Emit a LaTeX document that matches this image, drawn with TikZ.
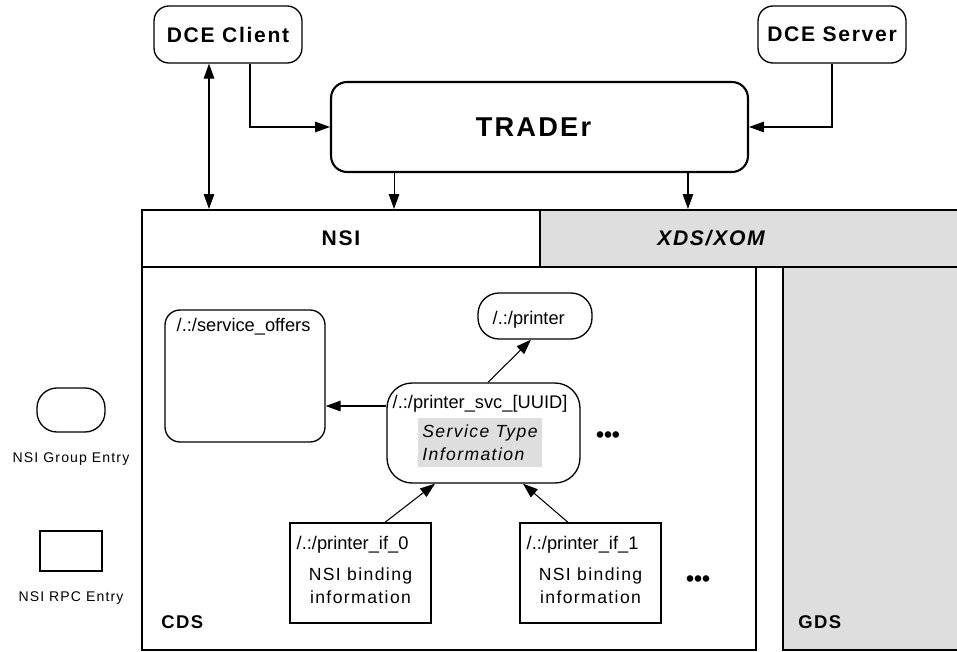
\documentclass[tikz,border=0pt]{standalone}
\usepackage{fontspec}
\setmainfont{Liberation Sans}[LetterSpace=8]
\newfontfamily\pathfont{Liberation Sans}
\usetikzlibrary{arrows.meta}

\definecolor{panelgray}{HTML}{DEDEDE}

\tikzset{
  entry/.style={draw, line width=0.75pt, inner sep=0pt},
  groupentry/.style={entry, rounded corners=#1},
  groupentry/.default=0.3cm,
  rpcentry/.style={entry},
  layer/.style={draw, line width=1.2pt, inner sep=0pt},
  pathlabel/.style={anchor=base west, inner sep=0pt, font=\pathfont\fontsize{10.4}{12}\selectfont},
  layerlabel/.style={anchor=base west, inner sep=0pt, yshift=0.46cm, font=\bfseries\fontsize{10.5}{12}\selectfont},
  legendlabel/.style={anchor=base, inner sep=0pt, yshift=-0.6cm, font=\fontsize{8}{10}\selectfont},
  bindlabel/.style={anchor=south, inner sep=0pt, yshift=0.4cm, align=center, font=\fontsize{10}{12.8}\selectfont},
  shadebox/.style={fill=panelgray, inner sep=1pt, minimum width=2.48cm, minimum height=0.98cm, align=left, font=\itshape\fontsize{10}{13.4}\selectfont},
  morednote/.style={inner sep=0pt, font=\pathfont\bfseries\fontsize{13}{14}\selectfont},
  link/.style={-{Triangle[length=8.5pt,width=6pt]}, line width=0.6pt},
  dbllink/.style={{Triangle[length=8.5pt,width=6pt]}-{Triangle[length=8.5pt,width=6pt]}, line width=0.6pt}
}

\begin{document}
\begin{tikzpicture}[x=0.02cm, y=-0.02cm]
  \useasboundingbox (0,0) rectangle (957,652);

  % DCE side
  \node[groupentry, minimum width=2.96cm, minimum height=1.14cm, font=\bfseries\fontsize{12}{14}\selectfont] (client) at (228,34.5) {DCE Client};
  \node[groupentry, minimum width=2.96cm, minimum height=1.14cm, font=\bfseries\fontsize{12}{14}\selectfont] (server) at (832,34.5) {DCE Server};
  \node[groupentry=0.32cm, line width=1.2pt, minimum width=8.34cm, minimum height=1.8cm,
        label={[inner sep=0pt, xshift=-0.12cm, font=\bfseries\fontsize{15.5}{18}\selectfont]center:TRADEr}] (trader) at (539.5,127) {};

  % layers
  \node[layer, minimum width=7.96cm, minimum height=1.14cm, font=\bfseries\fontsize{12}{14}\selectfont] (nsi) at (341,238.5) {NSI};
  \node[layer, fill=panelgray, minimum width=8.4cm, minimum height=1.14cm,
        label={[inner sep=0pt, xshift=-0.78cm, font=\bfseries\itshape\fontsize{12}{14}\selectfont]center:XDS/XOM}] (xds) at (750,238.5) {};
  \node[layer, minimum width=12.28cm, minimum height=7.66cm, label={[layerlabel, xshift=0.4cm]south west:CDS}] (cds) at (449,458.5) {};
  \node[layer, fill=panelgray, minimum width=3.52cm, minimum height=7.66cm, label={[layerlabel, xshift=0.32cm]south west:GDS}] (gds) at (871,458.5) {};

  % CDS entries
  \node[groupentry, minimum width=3.2cm, minimum height=2.64cm,
        label={[pathlabel, xshift=0.24cm, yshift=-0.44cm]north west:{/.:/service\_offers}}] (offers) at (245,376) {};
  \node[groupentry=0.42cm, minimum width=2.28cm, minimum height=0.92cm,
        label={[pathlabel, xshift=0.3cm, yshift=-0.16cm]west:{/.:/printer}}] (printer) at (535,316) {};
  \node[groupentry=0.5cm, minimum width=3.86cm, minimum height=2cm,
        label={[pathlabel, xshift=0.12cm, yshift=-0.52cm]north west:{/.:/printer\_svc\_[UUID]}}] (svc) at (483.5,433) {};
  \node[shadebox] (svcinfo) at (480,442.5) {Service Type\\Information};
  \node[rpcentry, minimum width=2.82cm, minimum height=2cm,
        label={[pathlabel, xshift=0.14cm, yshift=-0.54cm]north west:{/.:/printer\_if\_0}},
        label={[bindlabel]south:{NSI binding\\information}}] (ifzero) at (360.5,573) {};
  \node[rpcentry, minimum width=2.82cm, minimum height=2cm,
        label={[pathlabel, xshift=0.14cm, yshift=-0.54cm]north west:{/.:/printer\_if\_1}},
        label={[bindlabel]south:{NSI binding\\information}}] (ifone) at (590.5,573) {};
  \node[morednote] (moresvc) at (608,437) {•••};
  \node[morednote] (moreif) at (698,581) {•••};

  % legend
  \node[groupentry=0.4cm, minimum width=1.36cm, minimum height=0.88cm, label={[legendlabel]below:NSI Group Entry}] (keygroup) at (71,410) {};
  \node[rpcentry, minimum width=1.24cm, minimum height=0.8cm, label={[legendlabel]below:NSI RPC Entry}] (keyrpc) at (71,551) {};

  % connectors
  \coordinate (clientdrop) at ([xshift=-0.38cm]client.south);
  \coordinate (traderleft) at ([xshift=-2.91cm]trader.south);
  \coordinate (traderright) at ([xshift=2.97cm]trader.south);
  \coordinate (svcside) at ([yshift=0.54cm]svc.west);

  \draw[link] ([xshift=0.44cm]client.south) |- (trader.west);
  \draw[link] (server.south) |- (trader.east);
  \draw[dbllink] (clientdrop) -- (clientdrop |- nsi.north);
  \draw[link] (traderleft) -- (traderleft |- nsi.north);
  \draw[link] (traderright) -- (traderright |- xds.north);
  \draw[link] (svcside) -- (svcside -| offers.east);
  \draw[link] ([xshift=0.09cm]svc.north) -- ([xshift=-0.08cm]printer.south);
  \draw[link] ([xshift=0.49cm]ifzero.north) -- ([xshift=-0.97cm]svc.south);
  \draw[link] ([xshift=-0.45cm]ifone.north) -- ([xshift=0.79cm]svc.south);
\end{tikzpicture}
\end{document}
